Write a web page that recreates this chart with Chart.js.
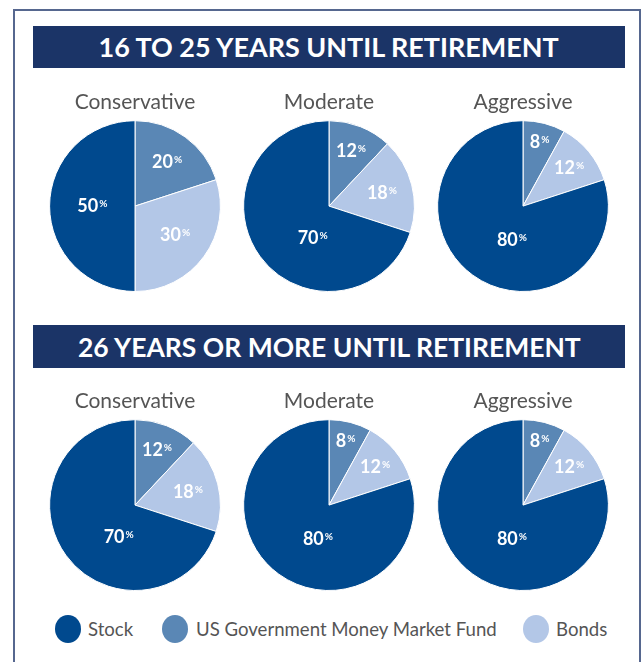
<!DOCTYPE html>
<html>
<head>
<meta charset="utf-8">
<script src="https://cdn.jsdelivr.net/npm/chart.js@4.4.1/dist/chart.umd.min.js"></script>
<style>
  body { margin: 0; width: 642px; height: 662px; background: #fff; overflow: hidden; position: relative; font-family: Lato, "Open Sans", sans-serif; }
  .frame { position: absolute; left: 13px; top: 9px; width: 628px; height: 700px; border: 2px solid #56678f; box-sizing: border-box; }
  .banner { position: absolute; left: 33px; width: 592px; height: 42px; background: #1b3467; color: #fff;
            font-family: Lato, sans-serif; font-weight: bold; font-size: 27px;
            line-height: 42px; text-align: center; }
  .banner span { display: inline-block; white-space: nowrap; transform-origin: 50% 50%; }
  canvas { position: absolute; }
  .legend { position: absolute; top: 615px; left: 0; height: 28px; }
  .legend .dot { position: absolute; width: 26px; height: 28px; border-radius: 50%; top: 0; }
  .legend .txt { position: absolute; top: 0; line-height: 28px; font-size: 18.6px; color: #555; white-space: nowrap; }
</style>
</head>
<body>
<div class="frame"></div>
<div class="banner" style="top:26px"><span id="banner0"></span></div>
<div class="banner" style="top:325px;height:43px;line-height:43px"><span id="banner1"></span></div>
<div id="charts"></div>
<div class="legend" id="legend"></div>

<script>
// categories and labels
const categories = ['Stock', 'US Government Money Market Fund', 'Bonds'];
const profiles = ['Conservative', 'Moderate', 'Aggressive'];
const horizons = ['16 TO 25 YEARS UNTIL RETIREMENT', '26 YEARS OR MORE UNTIL RETIREMENT'];

// percentages per profile (Conservative, Moderate, Aggressive)
const stock16 = [50, 70, 80];
const mmf16   = [20, 12, 8];
const bonds16 = [30, 18, 12];

const stock26 = [70, 80, 80];
const mmf26   = [12, 8, 8];
const bonds26 = [18, 12, 12];

const stockColor = '#00498e';
const mmfColor = '#5a87b5';
const bondColor = '#b3c7e7';

Chart.defaults.font.family = 'Lato, "Open Sans", sans-serif';

// percent labels inside slices, small "%" raised
const pctLabels = {
  id: 'pctLabels',
  afterDatasetsDraw(chart) {
    const ctx = chart.ctx;
    const values = chart.data.datasets[0].data;
    chart.getDatasetMeta(0).data.forEach((arc, i) => {
      const v = values[i];
      const p = arc.getProps(['x', 'y', 'startAngle', 'endAngle', 'outerRadius'], true);
      let mid = (p.startAngle + p.endAngle) / 2;
      let f;
      if (v > 50) { mid = (mid + Math.PI / 2) / 2; f = 0.42; }
      else if (v >= 50) f = 0.5;
      else if (v > 20) f = 0.58;
      else if (v > 15) f = 0.64;
      else if (v > 10) f = 0.7;
      else f = 0.78;
      const cx = p.x + Math.cos(mid) * p.outerRadius * f;
      const cy = p.y + Math.sin(mid) * p.outerRadius * f;
      ctx.save();
      ctx.fillStyle = '#fff';
      ctx.textBaseline = 'alphabetic';
      ctx.textAlign = 'left';
      const numFont = 'bold 18px Lato, "Open Sans", sans-serif';
      const pctFont = 'bold 10px Lato, "Open Sans", sans-serif';
      ctx.font = numFont;
      const wn = ctx.measureText(String(v)).width;
      ctx.font = pctFont;
      const wp = ctx.measureText('%').width;
      const x0 = cx - (wn + wp + 1) / 2;
      ctx.font = numFont;
      ctx.fillText(String(v), x0, cy + 6);
      ctx.font = pctFont;
      ctx.fillText('%', x0 + wn + 1, cy + 1);
      ctx.restore();
    });
  }
};

function makePie(title, stock, mmf, bonds, left, top) {
  const cv = document.createElement('canvas');
  cv.width = 172;
  cv.height = 202;
  cv.style.left = left + 'px';
  cv.style.top = top + 'px';
  document.getElementById('charts').appendChild(cv);
  new Chart(cv.getContext('2d'), {
    type: 'pie',
    data: {
      labels: [categories[1], categories[2], categories[0]],
      datasets: [{
        data: [mmf, bonds, stock],
        backgroundColor: [mmfColor, bondColor, stockColor],
        borderColor: '#ffffff',
        borderWidth: 1
      }]
    },
    options: {
      responsive: false,
      devicePixelRatio: 1,
      animation: false,
      layout: { padding: 0 },
      plugins: {
        legend: { display: false },
        tooltip: { enabled: false },
        title: {
          display: true,
          text: title,
          color: '#555555',
          font: { size: 21, weight: 'normal' },
          padding: { top: 0, bottom: 5 }
        }
      }
    },
    plugins: [pctLabels]
  });
}

// banner titles, squeezed to the condensed look of the original
const bannerWidths = [460, 503];
horizons.forEach((txt, i) => {
  const s = document.getElementById('banner' + i);
  s.textContent = txt;
  s.style.transform = 'scaleX(' + (bannerWidths[i] / s.offsetWidth) + ')';
});

const centersX = [135, 329, 523];
profiles.forEach((name, i) => {
  makePie(name, stock16[i], mmf16[i], bonds16[i], centersX[i] - 86, 90);
  makePie(name, stock26[i], mmf26[i], bonds26[i], centersX[i] - 86, 389);
});

// legend
const legendItems = [
  { label: categories[0], color: stockColor, dot: 55, text: 88 },
  { label: categories[1], color: mmfColor, dot: 162, text: 196 },
  { label: categories[2], color: bondColor, dot: 523, text: 556 }
];
const lg = document.getElementById('legend');
legendItems.forEach(it => {
  const d = document.createElement('div');
  d.className = 'dot';
  d.style.left = it.dot + 'px';
  d.style.background = it.color;
  lg.appendChild(d);
  const t = document.createElement('div');
  t.className = 'txt';
  t.style.left = it.text + 'px';
  t.textContent = it.label;
  lg.appendChild(t);
});
</script>
</body>
</html>
